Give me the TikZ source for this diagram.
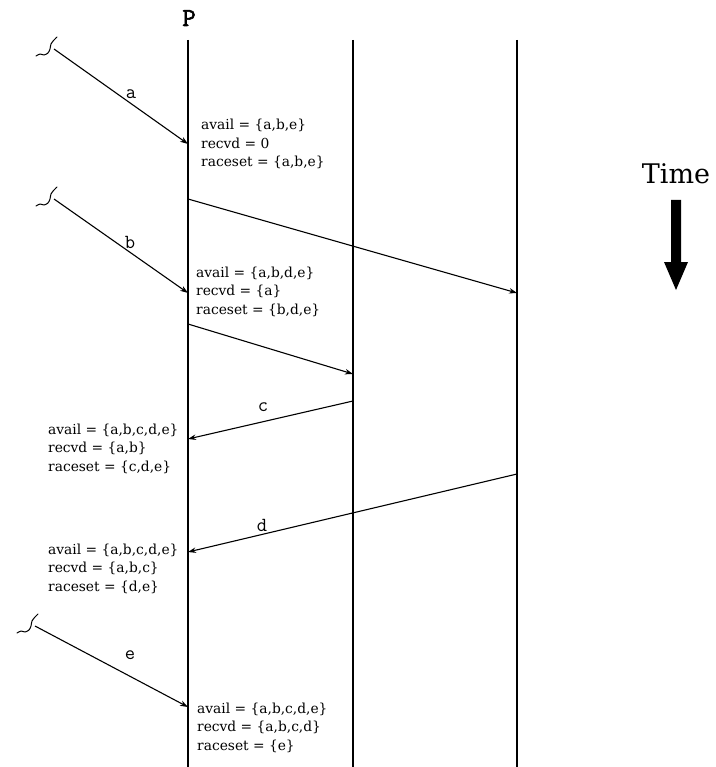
\documentclass[tikz,border=0pt]{standalone}
\usepackage{fontspec}
\setmainfont{DejaVu Serif}
\newfontfamily\heavymono[FakeBold=2.2]{Latin Modern Mono}
\usetikzlibrary{arrows.meta}
\begin{document}
\begin{tikzpicture}[x=1pt,y=-1pt,
  proc/.style={line width=2.4pt},
  msg/.style={line width=1.1pt,-{Stealth[length=8pt,width=5.5pt]}},
  state/.style={anchor=base west,inner sep=0pt,font=\fontsize{13.8}{15}\selectfont},
  lbl/.style={inner sep=0pt,font=\ttfamily\fontsize{20}{22}\selectfont},
  squig/.style={line width=1pt,line cap=round,line join=round},
  squiggle/.pic={\draw[squig] plot[smooth] coordinates
      {(-18,7) (-14,5) (-10,6) (-6,4) (-4,0) (-3,-5) (0,-9) (3,-12)};}]
\path[use as bounding box] (0,0) rectangle (715,767);

% process time lines
\coordinate (p0) at (188,40);  \coordinate (p1) at (188,767);
\coordinate (q0) at (353,40);  \coordinate (q1) at (353,767);
\coordinate (r0) at (517,40);  \coordinate (r1) at (517,767);
\draw[proc] (p0) -- (p1);
\draw[proc] (q0) -- (q1);
\draw[proc] (r0) -- (r1);
\node[inner sep=0pt,anchor=base,font=\heavymono\fontsize{26}{28}\selectfont] (P) at (189,26) {P};

% incoming messages from outside
\coordinate (a0) at (54,49);   \coordinate (a1) at (188,144);
\coordinate (b0) at (54,199);  \coordinate (b1) at (188,293);
\coordinate (e0) at (35,626);  \coordinate (e1) at (188,707);
\pic at (a0) {squiggle};
\pic at (b0) {squiggle};
\pic at (e0) {squiggle};
\draw[msg] (a0) -- (a1);
\draw[msg] (b0) -- (b1);
\draw[msg] (e0) -- (e1);
\node[lbl] (la) at (131,94) {a};
\node[lbl] (lb) at (130,242) {b};
\node[lbl] (le) at (130,655) {e};

% messages between processes
\coordinate (s1) at (188,199); \coordinate (s1e) at (517,293);
\coordinate (s2) at (188,324); \coordinate (s2e) at (353,374);
\coordinate (c0) at (353,401); \coordinate (c1) at (188,439);
\coordinate (d0) at (517,474); \coordinate (d1) at (188,552);
\draw[msg] (s1) -- (s1e);
\draw[msg] (s2) -- (s2e);
\draw[msg] (c0) -- (c1);
\draw[msg] (d0) -- (d1);
\node[lbl] (lc) at (263,407) {c};
\node[lbl] (ld) at (262,525) {d};

% state after each receive
\node[state] (sa1) at (201,130)   {avail = \{a,b,e\}};
\node[state] (sa2) at (201,148.5) {recvd = 0};
\node[state] (sa3) at (201,167)   {raceset = \{a,b,e\}};

\node[state] (sb1) at (196,277)   {avail = \{a,b,d,e\}};
\node[state] (sb2) at (196,295.5) {recvd = \{a\}};
\node[state] (sb3) at (196,314)   {raceset = \{b,d,e\}};

\node[state] (sc1) at (48,434)    {avail = \{a,b,c,d,e\}};
\node[state] (sc2) at (48,452.5)  {recvd = \{a,b\}};
\node[state] (sc3) at (48,471)    {raceset = \{c,d,e\}};

\node[state] (sd1) at (48,554)    {avail = \{a,b,c,d,e\}};
\node[state] (sd2) at (48,572.5)  {recvd = \{a,b,c\}};
\node[state] (sd3) at (48,591)    {raceset = \{d,e\}};

\node[state] (se1) at (197,713)   {avail = \{a,b,c,d,e\}};
\node[state] (se2) at (197,731.5) {recvd = \{a,b,c,d\}};
\node[state] (se3) at (197,750)   {raceset = \{e\}};

% time direction
\node[inner sep=0pt,anchor=base,font=\fontsize{27}{30}\selectfont] (time) at (676,184) {Time};
\fill (671,200) -- (681,200) -- (681,262) -- (688,262) -- (676,290)
      -- (664,262) -- (671,262) -- cycle;
\end{tikzpicture}
\end{document}
